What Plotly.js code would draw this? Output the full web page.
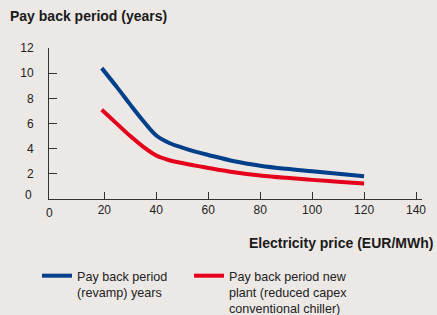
<!DOCTYPE html>
<html>
<head>
<meta charset="utf-8">
<script src="https://cdn.plot.ly/plotly-3.0.1.min.js"></script>
<style>html,body{margin:0;padding:0;background:#ECE8E5;}#chart{width:437px;height:315px;}</style>
</head>
<body>
<div id="chart"></div>
<script>
const priceX = [19, 25, 30, 35, 40, 45, 50, 55, 60, 70, 80, 90, 100, 110, 120];
const revampYears = [10.4, 8.85, 7.5, 6.2, 5.05, 4.45, 4.08, 3.76, 3.5, 3.0, 2.65, 2.4, 2.2, 2.0, 1.8];
const newPlantYears = [7.1, 5.95, 5.0, 4.15, 3.45, 3.08, 2.86, 2.65, 2.47, 2.13, 1.87, 1.68, 1.52, 1.37, 1.24];
const seriesNames = ["Pay back period<br>(revamp) years", "Pay back period new<br>plant (reduced capex<br>conventional chiller)"];
const xTickVals = [20, 40, 60, 80, 100, 120, 140];
const yTickVals = [2, 4, 6, 8, 10, 12];
const chartTitle = "Pay back period (years)";
const xTitle = "Electricity price (EUR/MWh)";

const FONT = "Liberation Sans, Arial, sans-serif";
const traces = [
  {x: priceX, y: revampYears, name: seriesNames[0], mode: "lines", legend: "legend",
   line: {color: "#003F8A", width: 4, shape: "spline", smoothing: 1}},
  {x: priceX, y: newPlantYears, name: seriesNames[1], mode: "lines", legend: "legend2",
   line: {color: "#E5001C", width: 4, shape: "spline", smoothing: 1}}
];
const axisCommon = {showgrid: false, zeroline: false, showline: true, linecolor: "#333", linewidth: 1,
  ticks: "inside", tickcolor: "#333", tickwidth: 1, tickfont: {family: FONT, size: 12, color: "#222"}};
const legendCommon = {orientation: "v", xref: "container", yref: "container", xanchor: "left",
  y: 1 - 261/315, yanchor: "top", valign: "top",
  font: {family: FONT, size: 12.6, color: "#222"}, bgcolor: "rgba(0,0,0,0)"};
const layout = {
  width: 437, height: 315,
  paper_bgcolor: "#ECE8E5", plot_bgcolor: "#ECE8E5",
  margin: {l: 49, r: 15, t: 48, b: 116, autoexpand: false},
  font: {family: FONT, color: "#222"},
  title: {text: chartTitle, font: {family: FONT, size: 14, weight: 700, color: "#1a1a1a"},
    xref: "container", yref: "container", x: 10/437, xanchor: "left", y: 1 - 16/315, yanchor: "middle"},
  xaxis: Object.assign({}, axisCommon, {range: [-1.3, 142.3], tickvals: xTickVals, ticklen: 7, ticklabelstandoff: 0, automargin: false}),
  yaxis: Object.assign({}, axisCommon, {range: [0, 12], tickvals: yTickVals, ticklen: 8, ticklabelstandoff: 12, automargin: false}),
  showlegend: true,
  legend: Object.assign({}, legendCommon, {x: 37/437}),
  legend2: Object.assign({}, legendCommon, {x: 189/437}),
  annotations: [
    {text: xTitle, xref: "paper", yref: "paper", x: 1.036, y: -0.29, xanchor: "right", yanchor: "middle",
     showarrow: false, font: {family: FONT, size: 14, weight: 700, color: "#1a1a1a"}},
    {text: "0", xref: "x", yref: "paper", x: -1.1, y: 0, yshift: -14, xanchor: "center", yanchor: "middle",
     showarrow: false, font: {family: FONT, size: 12, color: "#222"}},
    {text: "0", xref: "paper", yref: "y", x: 0, y: 0, xshift: -15, yshift: 4, xanchor: "right", yanchor: "middle",
     showarrow: false, font: {family: FONT, size: 12, color: "#222"}}
  ]
};
Plotly.newPlot("chart", traces, layout, {displayModeBar: false, staticPlot: true});
</script>
</body>
</html>
